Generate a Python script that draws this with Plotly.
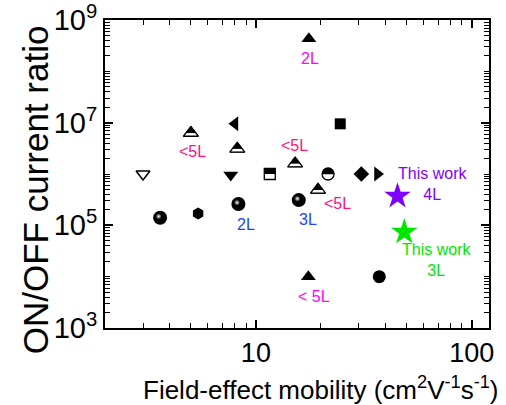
import math
import plotly.graph_objects as go

# ---------------- data (mobility cm2/Vs, ON/OFF ratio) ----------------
tri_up_x = [17.6, 17.5]
tri_up_y = [4.3e8, 1.0e4]
half_tri_x = [5.0, 8.2, 15.2, 19.4]
half_tri_y = [6.3e6, 3.1e6, 1.6e6, 4.9e5]
tri_left_x = [8.0]
tri_left_y = [9.5e6]
square_x = [24.6]
square_y = [9.5e6]
tri_down_open_x = [3.0]
tri_down_open_y = [1.0e6]
tri_down_x = [7.65]
tri_down_y = [9.6e5]
half_sq_x = [11.6]
half_sq_y = [1.0e6]
sphere_x = [3.6, 8.3, 15.8]
sphere_y = [1.4e5, 2.6e5, 3.1e5]
hex_x = [5.4]
hex_y = [1.7e5]
half_circ_x = [21.6]
half_circ_y = [1.0e6]
diamond_x = [30.8]
diamond_y = [1.0e6]
tri_right_x = [36.6]
tri_right_y = [1.0e6]
circle_x = [37.3]
circle_y = [1.0e4]
star4_x = [45.3]
star4_y = [3.7e5]
star3_x = [48.7]
star3_y = [7.4e4]

y_title = "ON/OFF current ratio"
x_title = "Field-effect mobility (cm<sup>2</sup>V<sup>-1</sup>s<sup>-1</sup>)"
x_tickvals = [10, 100]
x_ticktext = ["10", "100"]
y_tickvals = [1e3, 1e5, 1e7, 1e9]
y_ticktext = ["10<sup>3</sup>", "10<sup>5</sup>", "10<sup>7</sup>", "10<sup>9</sup>"]
x_minor = [d * 10 ** k for k in (0, 1) for d in range(2, 10)]
y_minor = [d * 10 ** k for k in range(3, 9) for d in range(1, 10)]

X_RANGE = [0.301, 2.08]
Y_RANGE = [2.999, 9.001]

MAGENTA = "#FF00FF"
PINK = "#FF1080"
BLUE = "#2244FF"
PURPLE = "#7F00FF"
GREEN = "#00E600"

fig = go.Figure()


def add(x, y, symbol, size, color="black", lcolor="black", lw=0, angle=0,
        standoff=0, gradient=None):
    m = dict(symbol=symbol, size=size, color=color, angle=angle,
             standoff=standoff, line=dict(color=lcolor, width=lw))
    if gradient is not None:
        m["gradient"] = gradient
    fig.add_trace(go.Scatter(x=x, y=y, mode="markers", marker=m,
                             showlegend=False, hoverinfo="skip"))


# plain filled markers
add(tri_up_x, tri_up_y, "triangle-up", 13)
add(tri_left_x, tri_left_y, "triangle-left", 13)
add(square_x, square_y, "square", 11)
add(tri_down_open_x, tri_down_open_y, "triangle-down", 12, color="white", lw=1.5)
add(tri_down_x, tri_down_y, "triangle-down", 13)
add(hex_x, hex_y, "hexagon", 12)
add(diamond_x, diamond_y, "diamond", 12)
add(tri_right_x, tri_right_y, "triangle-right", 13)
add(circle_x, circle_y, "circle", 13)

# half-filled triangles (top black, bottom band white)
add(half_tri_x, half_tri_y, "triangle-up", 13, lw=1)
add(half_tri_x, half_tri_y, "line-ew", 12, lcolor="white", lw=3, standoff=1.6)
add(half_tri_x, half_tri_y, "triangle-up-open", 13, lw=1.3)

# half-filled square (top black)
add(half_sq_x, half_sq_y, "square", 11, color="white", lw=1.3)
add(half_sq_x, half_sq_y, "line-ew", 7.9, lcolor="black", lw=5.5, angle=180, standoff=2.75)

# half-filled circle (top black)
add(half_circ_x, half_circ_y, "circle", 12)
add(half_circ_x, half_circ_y, "line-ew", 9, lcolor="white", lw=5.5, standoff=3)
add(half_circ_x, half_circ_y, "circle-open", 12, lw=1.3)

# shaded spheres
add(sphere_x, sphere_y, "circle", 14)
add(sphere_x, sphere_y, "circle", 6, color="black", angle=135, standoff=2,
    gradient=dict(type="radial", color="white"))

# stars (this work)
add(star4_x, star4_y, "star", 20, color=PURPLE)
add(star3_x, star3_y, "star", 20, color=GREEN)

# invisible trace to attach the minor-tick overlay axes
fig.add_trace(go.Scatter(x=star4_x, y=star4_y, xaxis="x2", yaxis="y2", mode="markers",
                         marker=dict(opacity=0), showlegend=False, hoverinfo="skip"))

# labels: (text, x, y, xshift, yshift, color)
labels = [
    ("2L", tri_up_x[0], tri_up_y[0], 1, -20, MAGENTA),
    ("< 5L", tri_up_x[1], tri_up_y[1], 6, -20, MAGENTA),
    ("<5L", half_tri_x[0], half_tri_y[0], 2, -19, PINK),
    ("<5L", half_tri_x[2], half_tri_y[2], -1, 18, PINK),
    ("<5L", half_tri_x[3], half_tri_y[3], 19, -14, PINK),
    ("2L", sphere_x[1], sphere_y[1], 8, -20, BLUE),
    ("3L", sphere_x[2], sphere_y[2], 9, -19, BLUE),
    ("This work<br>4L", star4_x[0], star4_y[0], 35, 12, PURPLE),
    ("This work<br>3L", star3_x[0], star3_y[0], 32, -28, GREEN),
]
for text, x, y, xs, ys, col in labels:
    fig.add_annotation(x=math.log10(x), y=math.log10(y), xref="x", yref="y",
                       text=text, showarrow=False, xshift=xs, yshift=ys,
                       font=dict(size=16, color=col))

FONT = "Liberation Sans, Arial, sans-serif"

# axis titles
fig.add_annotation(x=-0.18, y=0.45, xref="paper", yref="paper", text=y_title,
                   textangle=-90, showarrow=False, xanchor="center", yanchor="middle",
                   font=dict(size=35, color="black", family=FONT))
fig.add_annotation(x=0.5625, y=-0.195, xref="paper", yref="paper", text=x_title,
                   showarrow=False, xanchor="center", yanchor="middle",
                   font=dict(size=26, color="black", family=FONT))

axis_common = dict(
    type="log", showline=True, linewidth=2, linecolor="black", mirror="allticks",
    ticks="inside", ticklen=8, tickwidth=1.6, tickcolor="black", showgrid=False,
    zeroline=False, automargin=False, tickmode="array",
)
minor_common = {**axis_common, "ticklen": 5, "tickwidth": 1.3}

fig.update_layout(
    width=506, height=405,
    margin=dict(l=105, r=17, t=20, b=77, autoexpand=False),
    paper_bgcolor="white", plot_bgcolor="white",
    font=dict(family=FONT, color="black"),
    xaxis=dict(**axis_common, range=X_RANGE, tickvals=x_tickvals, ticktext=x_ticktext,
               tickfont=dict(size=27, color="black", family=FONT)),
    yaxis=dict(**axis_common, range=Y_RANGE, tickvals=y_tickvals, ticktext=y_ticktext,
               tickfont=dict(size=29, color="black", family=FONT)),
    xaxis2=dict(**minor_common, range=X_RANGE, tickvals=x_minor, showticklabels=False,
                overlaying="x", anchor="y2", side="bottom"),
    yaxis2=dict(**minor_common, range=Y_RANGE, tickvals=y_minor, showticklabels=False,
                overlaying="y", anchor="x2", side="left"),
)

fig.write_html("out.html")
